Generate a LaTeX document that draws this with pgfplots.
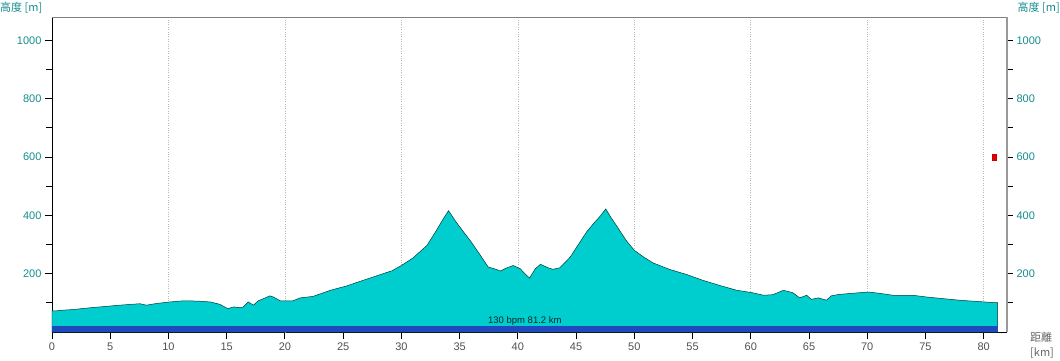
\documentclass[border=0pt]{standalone}
\usepackage{fontspec}
\setmainfont{Liberation Sans}
\newfontfamily\jp{Noto Sans CJK JP}
\usepackage{pgfplots}
\pgfplotsset{compat=1.18}
\definecolor{prof}{RGB}{0,206,206}
\definecolor{band}{RGB}{34,72,190}
\definecolor{tealtxt}{RGB}{20,140,140}
\definecolor{xtxt}{RGB}{80,80,80}
\pgfplotstableread{
km m
0 72
0.5 73
1.0 75
1.8 77
2.5 80
3.5 84
4.7 88
5.5 91
6.5 94
7.55 97
8.1 92
9.0 98
10.1 103
11.3 107
12.5 106
13.6 103
14.4 95
15.1 80
15.6 86
16.0 84
16.4 85
16.85 103
17.3 92
17.7 107
18.2 115
18.7 124
19.0 120
19.6 107
20.4 107
20.7 107
21.3 117
22.4 122
23.2 133
23.9 143
25.3 158
26.7 177
28.2 197
29.2 210
30.0 228
31.0 254
32.2 297
33.0 348
33.6 388
34.05 416
34.7 377
35.3 345
35.9 314
36.7 268
37.45 223
38.2 214
38.5 209
39.0 219
39.6 228
40.2 217
40.6 200
41.0 185
41.5 217
41.95 232
42.6 220
43.0 215
43.6 220
44.5 257
45.2 300
45.9 343
46.5 372
47.0 394
47.55 422
48.0 392
48.5 363
49.3 314
50.0 280
50.8 257
51.6 237
53.0 215
54.5 197
55.9 177
57.3 160
58.8 143
60.1 135
61.1 126
61.9 128
62.8 143
63.6 135
64.2 117
64.8 126
65.2 112
65.8 117
66.5 109
66.9 124
67.6 129
69.4 135
70.1 137
71.0 133
72.2 126
73.9 126
75.1 120
77.9 109
80.8 101
81.2 101
}\profile
\begin{document}
\begin{tikzpicture}[font=\fontsize{11}{13}\selectfont]
\path[use as bounding box] (-52pt,-28pt) rectangle (1008pt,332pt);
\begin{axis}[
 at={(0,0)}, anchor=south west,
 scale only axis, width=955pt, height=315pt,
 xmin=0, xmax=82, ymin=0, ymax=1080,
 axis x line*=bottom, axis y line*=left,
 axis line style={-, black, line width=0.8pt},
 xtick={0,5,...,80},
 extra x ticks={10,20,...,80}, extra x tick labels={},
 extra x tick style={grid=major},
 major grid style={dotted, gray!55, line width=0.7pt},
 ytick={200,400,...,1000}, minor ytick={100,300,...,900},
 tick align=outside, major tick length=7pt, minor tick length=6pt,
 every tick/.style={black, line width=0.9pt},
 xticklabel style={text=xtxt},
 yticklabel style={text=tealtxt},
 /pgf/number format/.cd, set thousands separator={}, assume math mode=true,
]
\addplot[fill=prof, draw=black!55!teal, line width=0.5pt] table[x=km, y=m] {\profile} \closedcycle;
\addplot[fill=band, draw=none] coordinates {(0,22) (81.2,22)} \closedcycle;
\addplot[only marks, mark=square*, mark size=2.8pt, mark options={fill=red!90!black, draw=red!80!black, xscale=0.65}] coordinates {(80.9,600)};
\node[font=\fontsize{9.5}{10}\selectfont, text=black!70!teal] at (axis cs:40.6,39) {130 bpm 81.2 km};
\end{axis}
\begin{axis}[
 at={(0,0)}, anchor=south west,
 scale only axis, width=955pt, height=315pt,
 xmin=0, xmax=82, ymin=0, ymax=1080,
 axis x line*=top, axis y line*=right,
 x axis line style={-, gray, line width=0.6pt},
 y axis line style={-, gray!80, line width=1.6pt},
 xtick=\empty,
 ytick={200,400,...,1000}, minor ytick={100,300,...,900},
 tick align=outside, major tick length=6pt, minor tick length=6pt,
 every tick/.style={black, line width=0.9pt},
 yticklabel style={text=tealtxt},
 /pgf/number format/.cd, set thousands separator={}, assume math mode=true,
]
\end{axis}
\node[anchor=west, text=tealtxt, inner sep=0pt] at (-52pt,324pt) {\jp 高度 [m]};
\node[anchor=east, text=tealtxt, inner sep=0pt] at (1008pt,324pt) {\jp 高度 [m]};
\node[anchor=west, text=black!60, align=left, inner sep=0pt, font=\jp\fontsize{11}{15}\selectfont] at (978pt,-13pt) {距離\\{}[km]};
\end{tikzpicture}
\end{document}
